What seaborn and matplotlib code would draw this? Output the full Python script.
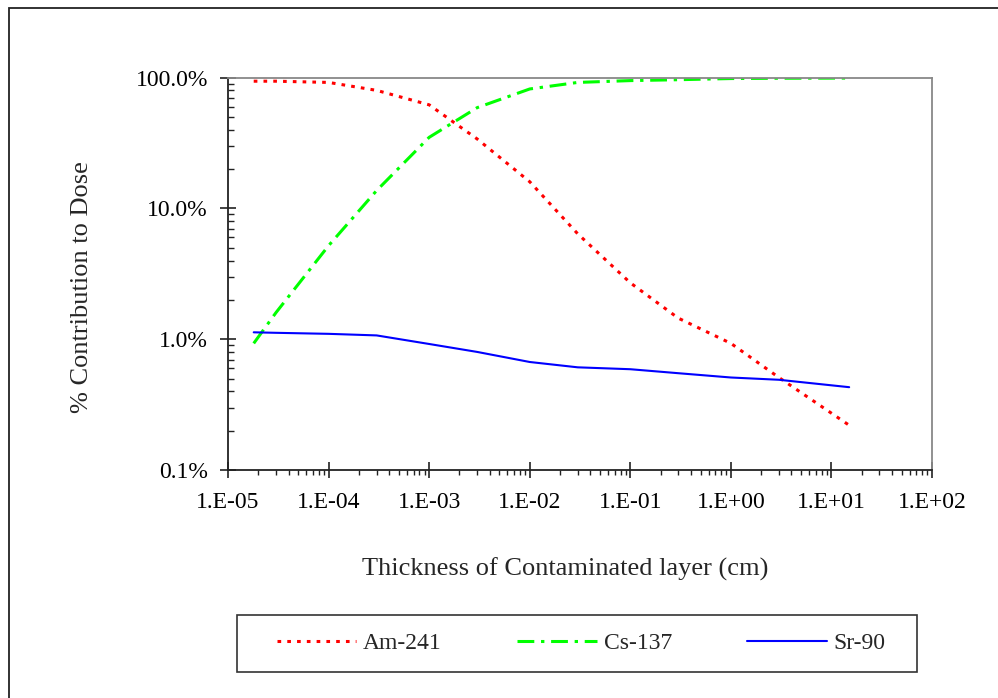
import numpy as np
import pandas as pd
import matplotlib
matplotlib.use("Agg")
import matplotlib.pyplot as plt
import matplotlib.ticker as mticker
from matplotlib.patches import Rectangle
import seaborn as sns

# thickness of contaminated layer (cm)
thickness = [1.8e-5, 3e-5, 1e-4, 3e-4, 1e-3, 3e-3, 1e-2, 3e-2, 1e-1, 3e-1, 1.0, 3.0, 15.0]
# % contribution to dose
am241 = [94, 94, 92, 80, 62, 34, 16, 6.4, 2.7, 1.45, 0.93, 0.51, 0.22]
cs137 = [0.93, 1.6, 5.2, 13.7, 35, 59, 82, 92, 95, 96.5, 98.5, 99, 99.3]
sr90 = [1.13, 1.12, 1.10, 1.07, 0.92, 0.80, 0.67, 0.61, 0.59, 0.55, 0.51, 0.49, 0.43]

colors = ["#ff0000", "#00ff00", "#0000ff"]

sns.set_style("white")
plt.rcParams["font.family"] = ["Liberation Serif", "DejaVu Serif"]

df = pd.DataFrame({"x": thickness, "Am-241": am241, "Cs-137": cs137, "Sr-90": sr90})

fig = plt.figure(figsize=(9.98, 6.98), dpi=100)
ax = fig.add_axes([0.2285, 0.3266, 0.7054, 0.5621])

sns.lineplot(data=df, x="x", y="Am-241", ax=ax, color=colors[0], lw=2.2,
             linestyle=(0, (1.2, 2.0)), label="Am-241")
sns.lineplot(data=df, x="x", y="Cs-137", ax=ax, color=colors[1], lw=2.2,
             linestyle=(0, (5.5, 2.2, 1.1, 2.2)), label="Cs-137")
sns.lineplot(data=df, x="x", y="Sr-90", ax=ax, color=colors[2], lw=1.5,
             linestyle="-", label="Sr-90")

ax.set_xscale("log")
ax.set_yscale("log")
ax.set_xlim(1e-5, 1e2)
ax.set_ylim(0.1, 100)

ax.xaxis.set_major_locator(mticker.LogLocator(base=10, numticks=20))
ax.xaxis.set_minor_locator(mticker.LogLocator(base=10, subs=np.arange(2, 10), numticks=20))
ax.yaxis.set_major_locator(mticker.LogLocator(base=10, numticks=20))
ax.yaxis.set_minor_locator(mticker.LogLocator(base=10, subs=np.arange(2, 10), numticks=20))
ax.xaxis.set_major_formatter(
    mticker.FuncFormatter(lambda v, p: "1.E{:+03d}".format(int(round(np.log10(v))))))
ax.yaxis.set_major_formatter(mticker.FuncFormatter(lambda v, p: "{:.1f}%".format(v)))
ax.xaxis.set_minor_formatter(mticker.NullFormatter())
ax.yaxis.set_minor_formatter(mticker.NullFormatter())

ax.tick_params(axis="x", which="major", direction="inout", length=11, width=1.2,
               colors="#222222", labelcolor="black", labelsize=17, pad=10, bottom=True)
ax.tick_params(axis="x", which="minor", direction="out", length=3.8, width=1.0,
               colors="#222222", bottom=True)
ax.tick_params(axis="y", which="major", direction="inout", length=11, width=1.2,
               colors="#222222", labelcolor="black", labelsize=17, pad=9, left=True)
ax.tick_params(axis="y", which="minor", direction="in", length=4.5, width=1.0,
               colors="#222222", left=True)

for side in ["left", "bottom"]:
    ax.spines[side].set_color("#222222")
    ax.spines[side].set_linewidth(1.3)
for side in ["top", "right"]:
    ax.spines[side].set_color("#888888")
    ax.spines[side].set_linewidth(1.3)

ax.set_xlabel("Thickness of Contaminated layer (cm)", fontsize=19)
ax.set_ylabel("% Contribution to Dose", fontsize=19)
ax.xaxis.set_label_coords(0.479, -0.224)
ax.xaxis.label.set_va("top")
ax.yaxis.set_label_coords(-0.192, 0.4665)

handles, labels = ax.get_legend_handles_labels()
ax.legend(handles, labels, loc="center left", ncol=3,
          bbox_to_anchor=(277 / 998, 1 - 643.5 / 698),
          bbox_transform=fig.transFigure, fontsize=17, frameon=False,
          borderpad=0, borderaxespad=0, handlelength=3.35,
          handletextpad=0.3, columnspacing=3.2)

# legend box
fig.patches.append(Rectangle((237 / 998, 1 - 672 / 698), (917 - 237) / 998, 57 / 698,
                             transform=fig.transFigure, fill=False,
                             edgecolor="#333333", linewidth=1.2))

# outer chart border
fig.patches.append(Rectangle((9 / 998, -0.05), 1.1, 1 - 8 / 698 + 0.05,
                             transform=fig.transFigure, fill=False,
                             edgecolor="#222222", linewidth=1.3))

fig.savefig("out.png", dpi=100)
